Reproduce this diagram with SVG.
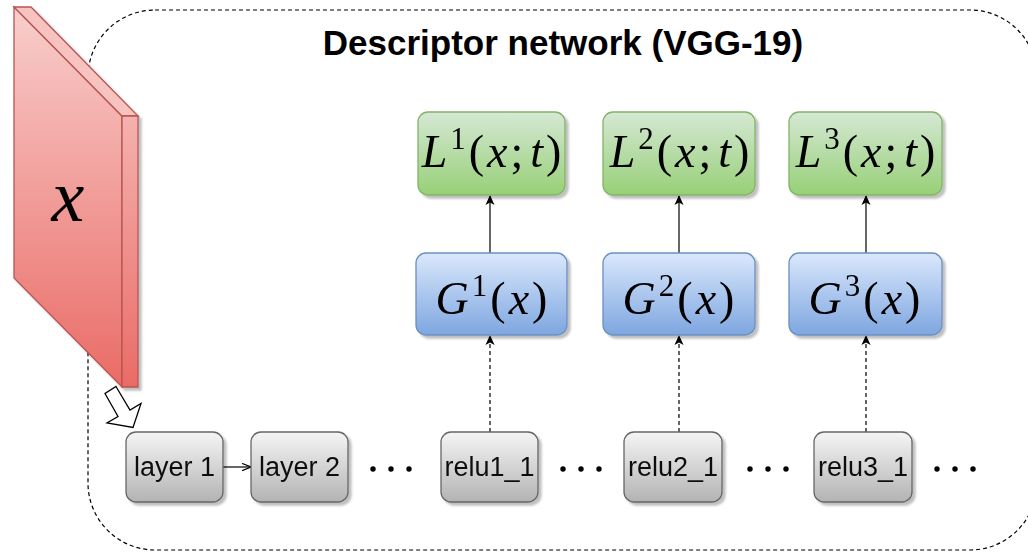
<svg xmlns="http://www.w3.org/2000/svg" width="1028" height="553" viewBox="0 0 1028 553">
<style>
.box{stroke-width:1.3}
.gray{fill:url(#gGray);stroke:#666666}
.blue{fill:url(#gBlue);stroke:#6c8ebf}
.green{fill:url(#gGreen);stroke:#82b366}
.lbl{font-family:"Liberation Sans",Arial,sans-serif;font-size:27px;fill:#111;text-anchor:middle}
.math{font-family:"Liberation Serif","Times New Roman",serif;font-size:46px;fill:#000;text-anchor:middle;letter-spacing:3px}
.it{font-style:italic}
.sup{font-size:31px}
.dash{stroke:#000;stroke-width:1.2;stroke-dasharray:4 3;fill:none}
.solid{stroke:#000;stroke-width:1.2;fill:none}
</style>
<defs>
<linearGradient id="gGray" x1="0" y1="0" x2="0" y2="1"><stop offset="0" stop-color="#f5f5f5"/><stop offset="1" stop-color="#b3b3b3"/></linearGradient>
<linearGradient id="gBlue" x1="0" y1="0" x2="0" y2="1"><stop offset="0" stop-color="#dae8fc"/><stop offset="1" stop-color="#7ea6e0"/></linearGradient>
<linearGradient id="gGreen" x1="0" y1="0" x2="0" y2="1"><stop offset="0" stop-color="#d5e8d4"/><stop offset="1" stop-color="#97d077"/></linearGradient>
<linearGradient id="gRed" gradientUnits="userSpaceOnUse" x1="0" y1="7" x2="0" y2="387"><stop offset="0" stop-color="#f8cecc"/><stop offset="1" stop-color="#ea6b66"/></linearGradient>
<filter id="sh" x="-20%" y="-20%" width="150%" height="150%">
<feGaussianBlur in="SourceAlpha" stdDeviation="1"/>
<feOffset dx="3" dy="3" result="o"/>
<feFlood flood-color="#000" flood-opacity="0.25"/>
<feComposite in2="o" operator="in"/>
<feMerge><feMergeNode/><feMergeNode in="SourceGraphic"/></feMerge>
</filter>
<marker id="classic" viewBox="0 0 10 10" refX="9" refY="5" markerWidth="10" markerHeight="10" markerUnits="userSpaceOnUse" orient="auto">
<path d="M0,0.5 L10,5 L0,9.5 L2.5,5 Z" fill="#000"/>
</marker>
<marker id="open" viewBox="0 0 10 10" refX="10" refY="5" markerWidth="9" markerHeight="9" markerUnits="userSpaceOnUse" orient="auto">
<path d="M0,1 L10,5 L0,9" fill="none" stroke="#000" stroke-width="1.3"/>
</marker>
</defs>

<g id="container">
<rect x="88" y="10" width="949" height="540" rx="67" ry="67" fill="none" stroke="#000" stroke-width="1.2" stroke-dasharray="4 3"/>
<text x="563" y="55" font-family="'Liberation Sans',Arial,sans-serif" font-size="35" font-weight="bold" text-anchor="middle" fill="#000">Descriptor network (VGG-19)</text>
</g>

<g id="input-x" filter="url(#sh)">
<polygon points="14,7 122,116 122,387 14,278" fill="url(#gRed)" stroke="#b85450" stroke-width="1.3"/>
<polygon points="14,7 31,7 138,116 122,116" fill="#f6c3c1" stroke="#b85450" stroke-width="1.3"/>
<polygon points="122,116 138,116 138,387 122,387" fill="url(#gRed)" stroke="#b85450" stroke-width="1.3"/>
<text x="68" y="221" font-family="'Liberation Serif','Times New Roman',serif" font-style="italic" font-size="74" text-anchor="middle" fill="#000">x</text>
</g>

<g id="input-arrow">
<polygon points="116,386.5 130,410 141,403.5 133,427.5 107,423 118,416.5 105,393.5" fill="#fff" stroke="#000" stroke-width="1.3" stroke-linejoin="miter"/>
</g>

<g id="connectors">
<line class="solid" x1="223" y1="467" x2="251" y2="467" marker-end="url(#open)"/>
<line class="dash" x1="490" y1="432" x2="490" y2="336" marker-end="url(#classic)"/>
<line class="dash" x1="679" y1="432" x2="679" y2="336" marker-end="url(#classic)"/>
<line class="dash" x1="866" y1="432" x2="866" y2="336" marker-end="url(#classic)"/>
<line class="solid" x1="490" y1="253" x2="490" y2="196" marker-end="url(#classic)"/>
<line class="solid" x1="679" y1="253" x2="679" y2="196" marker-end="url(#classic)"/>
<line class="solid" x1="866" y1="253" x2="866" y2="196" marker-end="url(#classic)"/>
</g>

<g id="layer1" filter="url(#sh)"><rect class="box gray" x="126" y="432" width="97" height="70" rx="10"/><text class="lbl" x="174.5" y="476">layer 1</text></g>
<g id="layer2" filter="url(#sh)"><rect class="box gray" x="251" y="432" width="97" height="70" rx="10"/><text class="lbl" x="299.5" y="476">layer 2</text></g>
<g id="relu1_1" filter="url(#sh)"><rect class="box gray" x="441" y="432" width="97" height="70" rx="10"/><text class="lbl" x="489.5" y="476">relu1_1</text></g>
<g id="relu2_1" filter="url(#sh)"><rect class="box gray" x="624" y="432" width="98" height="70" rx="10"/><text class="lbl" x="673" y="476">relu2_1</text></g>
<g id="relu3_1" filter="url(#sh)"><rect class="box gray" x="814" y="432" width="98" height="70" rx="10"/><text class="lbl" x="863" y="476">relu3_1</text></g>

<g id="dots" fill="#000">
<circle cx="373" cy="469" r="2.7"/><circle cx="391" cy="469" r="2.7"/><circle cx="409" cy="469" r="2.7"/>
<circle cx="563" cy="469" r="2.7"/><circle cx="581" cy="469" r="2.7"/><circle cx="599" cy="469" r="2.7"/>
<circle cx="750" cy="469" r="2.7"/><circle cx="768" cy="469" r="2.7"/><circle cx="786" cy="469" r="2.7"/>
<circle cx="937" cy="469" r="2.7"/><circle cx="955" cy="469" r="2.7"/><circle cx="973" cy="469" r="2.7"/>
</g>

<g id="G1" filter="url(#sh)"><rect class="box blue" x="416" y="253" width="151" height="82" rx="10"/>
<text class="math" x="493" y="314"><tspan class="it">G</tspan><tspan class="sup" dy="-18">1</tspan><tspan dy="18">(</tspan><tspan class="it">x</tspan>)</text></g>
<g id="G2" filter="url(#sh)"><rect class="box blue" x="603" y="253" width="152" height="82" rx="10"/>
<text class="math" x="680" y="314"><tspan class="it">G</tspan><tspan class="sup" dy="-18">2</tspan><tspan dy="18">(</tspan><tspan class="it">x</tspan>)</text></g>
<g id="G3" filter="url(#sh)"><rect class="box blue" x="789" y="253" width="153" height="82" rx="10"/>
<text class="math" x="866" y="314"><tspan class="it">G</tspan><tspan class="sup" dy="-18">3</tspan><tspan dy="18">(</tspan><tspan class="it">x</tspan>)</text></g>

<g id="L1" filter="url(#sh)"><rect class="box green" x="418" y="112" width="147" height="83" rx="10"/>
<text class="math" x="493" y="167"><tspan class="it">L</tspan><tspan class="sup" dy="-18">1</tspan><tspan dy="18">(</tspan><tspan class="it">x</tspan>;<tspan class="it" dx="4">t</tspan>)</text></g>
<g id="L2" filter="url(#sh)"><rect class="box green" x="603" y="112" width="152" height="83" rx="10"/>
<text class="math" x="681" y="167"><tspan class="it">L</tspan><tspan class="sup" dy="-18">2</tspan><tspan dy="18">(</tspan><tspan class="it">x</tspan>;<tspan class="it" dx="4">t</tspan>)</text></g>
<g id="L3" filter="url(#sh)"><rect class="box green" x="789" y="112" width="153" height="83" rx="10"/>
<text class="math" x="867" y="167"><tspan class="it">L</tspan><tspan class="sup" dy="-18">3</tspan><tspan dy="18">(</tspan><tspan class="it">x</tspan>;<tspan class="it" dx="4">t</tspan>)</text></g>
</svg>
